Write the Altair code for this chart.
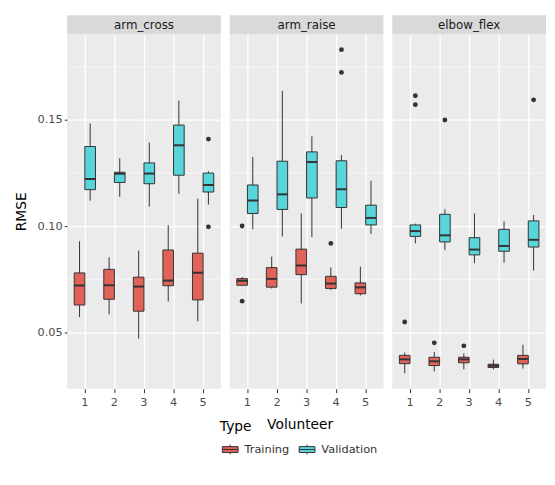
import altair as alt
import pandas as pd

exercises = ["arm_cross", "arm_raise", "elbow_flex"]
volunteers = [1, 2, 3, 4, 5]
types = ["Training", "Validation"]

# arm_cross
ac_tr_low = [0.0572, 0.0585, 0.0471, 0.0645, 0.0552]
ac_tr_q1 = [0.0629, 0.0656, 0.0600, 0.0720, 0.0653]
ac_tr_med = [0.0721, 0.0722, 0.0716, 0.0744, 0.0781]
ac_tr_q3 = [0.0780, 0.0797, 0.0760, 0.0888, 0.0873]
ac_tr_high = [0.0929, 0.0854, 0.0885, 0.1005, 0.1130]

ac_va_low = [0.1120, 0.1138, 0.1092, 0.1153, 0.1102]
ac_va_q1 = [0.1172, 0.1206, 0.1200, 0.1240, 0.1161]
ac_va_med = [0.1222, 0.1247, 0.1248, 0.1381, 0.1194]
ac_va_q3 = [0.1375, 0.1254, 0.1298, 0.1476, 0.1250]
ac_va_high = [0.1484, 0.1320, 0.1394, 0.1592, 0.1259]

# arm_raise
ar_tr_low = [0.0722, 0.0707, 0.0636, 0.0699, 0.0674]
ar_tr_q1 = [0.0722, 0.0713, 0.0772, 0.0707, 0.0682]
ar_tr_med = [0.0743, 0.0752, 0.0815, 0.0730, 0.0712]
ar_tr_q3 = [0.0753, 0.0805, 0.0892, 0.0764, 0.0733]
ar_tr_high = [0.0761, 0.0857, 0.1060, 0.0806, 0.0809]

ar_va_low = [0.0986, 0.0952, 0.0949, 0.0988, 0.0963]
ar_va_q1 = [0.1060, 0.1079, 0.1133, 0.1088, 0.1006]
ar_va_med = [0.1121, 0.1150, 0.1302, 0.1174, 0.1039]
ar_va_q3 = [0.1194, 0.1306, 0.1350, 0.1308, 0.1099]
ar_va_high = [0.1326, 0.1637, 0.1423, 0.1335, 0.1214]

# elbow_flex
ef_tr_low = [0.0308, 0.0316, 0.0326, 0.0326, 0.0330]
ef_tr_q1 = [0.0353, 0.0344, 0.0357, 0.0335, 0.0352]
ef_tr_med = [0.0373, 0.0364, 0.0373, 0.0343, 0.0375]
ef_tr_q3 = [0.0392, 0.0383, 0.0383, 0.0350, 0.0392]
ef_tr_high = [0.0405, 0.0408, 0.0401, 0.0372, 0.0442]

ef_va_low = [0.0919, 0.0887, 0.0826, 0.0828, 0.0791]
ef_va_q1 = [0.0952, 0.0926, 0.0865, 0.0882, 0.0902]
ef_va_med = [0.0977, 0.0957, 0.0890, 0.0907, 0.0936]
ef_va_q3 = [0.1006, 0.1056, 0.0946, 0.0985, 0.1025]
ef_va_high = [0.1012, 0.1080, 0.1060, 0.1023, 0.1053]

# outliers
out_exercise = ["arm_cross", "arm_cross", "arm_raise", "arm_raise", "arm_raise",
                "arm_raise", "arm_raise", "elbow_flex", "elbow_flex", "elbow_flex",
                "elbow_flex", "elbow_flex", "elbow_flex", "elbow_flex"]
out_type = ["Validation", "Validation", "Training", "Training", "Training",
            "Validation", "Validation", "Training", "Training", "Training",
            "Validation", "Validation", "Validation", "Validation"]
out_volunteer = [5, 5, 1, 1, 4, 4, 4, 1, 2, 3, 1, 1, 2, 5]
out_value = [0.1410, 0.0997, 0.1001, 0.0647, 0.0919, 0.1831, 0.1724,
             0.0549, 0.0451, 0.0437, 0.1614, 0.1572, 0.1500, 0.1595]

major_ticks = [0.05, 0.10, 0.15]
minor_ticks = [0.075, 0.125, 0.175]

groups = {
    ("arm_cross", "Training"): (ac_tr_low, ac_tr_q1, ac_tr_med, ac_tr_q3, ac_tr_high),
    ("arm_cross", "Validation"): (ac_va_low, ac_va_q1, ac_va_med, ac_va_q3, ac_va_high),
    ("arm_raise", "Training"): (ar_tr_low, ar_tr_q1, ar_tr_med, ar_tr_q3, ar_tr_high),
    ("arm_raise", "Validation"): (ar_va_low, ar_va_q1, ar_va_med, ar_va_q3, ar_va_high),
    ("elbow_flex", "Training"): (ef_tr_low, ef_tr_q1, ef_tr_med, ef_tr_q3, ef_tr_high),
    ("elbow_flex", "Validation"): (ef_va_low, ef_va_q1, ef_va_med, ef_va_q3, ef_va_high),
}

rows = []
for (ex, tp), (lo, q1, md, q3, hi) in groups.items():
    for i, v in enumerate(volunteers):
        rows.append(dict(Exercise=ex, Type=tp, Volunteer=v, low=lo[i], q1=q1[i],
                         med=md[i], q3=q3[i], high=hi[i]))
box_df = pd.DataFrame(rows)
out_df = pd.DataFrame(dict(Exercise=out_exercise, Type=out_type,
                           Volunteer=out_volunteer, value=out_value))

W, H = 156, 360
RED, CYAN = "#E06259", "#58D4DB"
DARK = "#333333"
Y_DOMAIN = [0.0235, 0.1905]
BOX_W = 10.8

fill_scale = alt.Scale(domain=types, range=[RED, CYAN])
legend_symbol = ("M-0.8,-0.3L0.8,-0.3L0.8,0.3L-0.8,0.3Z M-0.8,0L0.8,0 "
                 "M0,-0.3L0,-0.5 M0,0.3L0,0.5")


def panel(ex, idx):
    d = box_df[box_df.Exercise == ex]
    o = out_df[out_df.Exercise == ex]
    yscale = alt.Scale(domain=Y_DOMAIN, nice=False, zero=False)
    if idx == 0:
        yaxis = alt.Axis(values=major_ticks, format=".2f", title="RMSE",
                         grid=True, gridColor="white", gridWidth=1.3,
                         domain=False, ticks=True, tickColor=DARK, tickSize=3,
                         labelColor="#4D4D4D", labelFontSize=11.5, labelPadding=2,
                         titleFontSize=14, titleColor="black", titleFontWeight="normal",
                         titlePadding=9)
    else:
        yaxis = alt.Axis(values=major_ticks, title=None, labels=False, ticks=False,
                         grid=True, gridColor="white", gridWidth=1.3, domain=False)
    xaxis = alt.Axis(title="Volunteer" if idx == 1 else None, labelAngle=0,
                     grid=True, gridColor="white", gridWidth=1.3, bandPosition=0.5,
                     domain=False, tickColor=DARK, tickSize=4, labelColor="#4D4D4D",
                     labelFontSize=11.5, labelPadding=4, titleFontSize=14,
                     titleColor="black", titleFontWeight="normal", titlePadding=10,
                     titleX=71)
    xenc = alt.X("Volunteer:O", scale=alt.Scale(domain=volunteers, paddingInner=0,
                                                 paddingOuter=0.1), axis=xaxis)
    xoff = alt.XOffset("Type:N", scale=alt.Scale(domain=types, paddingInner=0,
                                                 paddingOuter=0.39))

    minor = alt.Chart(pd.DataFrame({"value": minor_ticks})).mark_rule(
        color="white", strokeWidth=0.6).encode(
        y=alt.Y("value:Q", scale=yscale, axis=yaxis))

    strip_df = pd.DataFrame({"label": [ex]})
    strip_rect = alt.Chart(strip_df).mark_rect(fill="#D9D9D9").encode(
        x=alt.value(0), x2=alt.value(W), y=alt.value(-19), y2=alt.value(0))
    strip_text = alt.Chart(strip_df).mark_text(
        fontSize=12, color="#1A1A1A", baseline="middle").encode(
        x=alt.value(W / 2), y=alt.value(-9.5), text="label:N")

    base = alt.Chart(d)
    whisk = base.mark_rule(color=DARK, strokeWidth=1).encode(
        x=xenc, xOffset=xoff,
        y=alt.Y("low:Q", scale=yscale, axis=yaxis), y2="high:Q")
    boxes = base.mark_bar(stroke=DARK, strokeWidth=1, opacity=1).encode(
        x=xenc, xOffset=xoff,
        y=alt.Y("q1:Q", scale=yscale, axis=yaxis), y2="q3:Q",
        fill=alt.Fill("Type:N", scale=fill_scale, title="Type"))
    meds = base.mark_tick(color=DARK, thickness=2, size=BOX_W, opacity=1).encode(
        x=xenc, xOffset=xoff, y=alt.Y("med:Q", scale=yscale, axis=yaxis))
    outs = alt.Chart(o).mark_circle(color=DARK, size=24, opacity=1).encode(
        x=xenc, xOffset=xoff, y=alt.Y("value:Q", scale=yscale, axis=yaxis))

    return alt.layer(minor, strip_rect, strip_text, whisk, boxes, meds, outs).properties(
        width=W, height=H)


chart = alt.hconcat(*[panel(ex, i) for i, ex in enumerate(exercises)], spacing=7).configure(
    font="DejaVu Sans",
    padding={"left": 6, "top": 4, "right": 0, "bottom": 0},
).configure_view(
    fill="#EBEBEB", stroke=None
).configure_legend(
    orient="none", legendX=155, legendY=392, direction="horizontal",
    titleFontSize=14, titleColor="black", titleFontWeight="normal",
    labelFontSize=11.5, labelColor="#333333", symbolType=legend_symbol,
    symbolSize=400, symbolStrokeColor=DARK, symbolStrokeWidth=1,
    symbolOpacity=1, columnPadding=7, labelOffset=4, titlePadding=5
).resolve_scale(fill="shared")

chart.save("out.html", embed_options={"renderer": "svg", "actions": False})
